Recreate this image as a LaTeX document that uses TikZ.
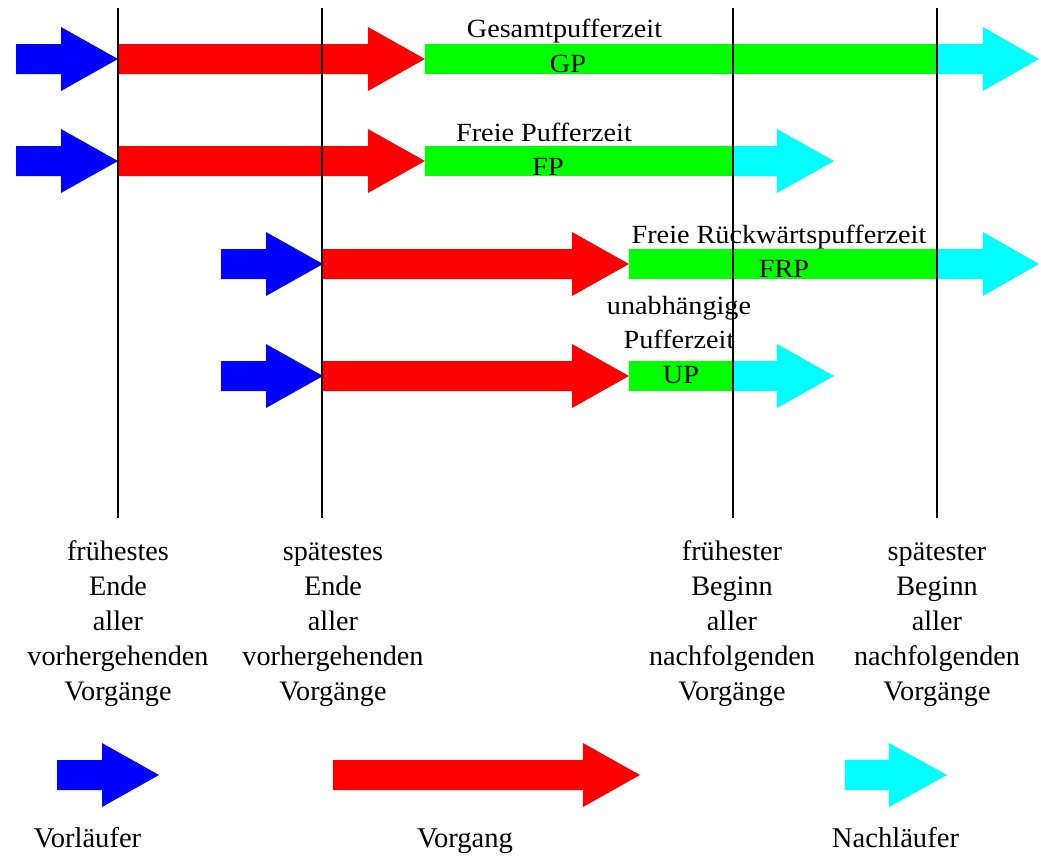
\documentclass[tikz,border=0pt]{standalone}
\usepackage{fontspec}
\setmainfont{Liberation Serif}
\usepackage{graphicx}
\definecolor{vblue}{RGB}{0,0,255}
\definecolor{vred}{RGB}{255,0,0}
\definecolor{vgreen}{RGB}{0,255,0}
\definecolor{vcyan}{RGB}{0,255,255}
% color, shaft start x, head start x, tip x, centre y
\newcommand\blockarrow[5]{%
  \fill[#1] (#2,#5-15) -- (#3,#5-15) -- (#3,#5-32) -- (#4,#5) -- (#3,#5+32) -- (#3,#5+15) -- (#2,#5+15) -- cycle;}
\newcommand\greenbar[3]{\fill[vgreen] (#1,#3-15) rectangle (#2,#3+15);}
\newcommand\sq[1]{\scalebox{1}[0.93]{#1}}
\newcommand\stack[1]{\begin{tabular}[t]{@{}c@{}}#1\end{tabular}}
\tikzset{
  lbl/.style={anchor=base, inner sep=0pt, font=\fontsize{28.2}{35}\selectfont},
  lblw/.style={anchor=base, inner sep=0pt, font=\fontsize{28.2}{37.6}\selectfont},
  leg/.style={anchor=base, inner sep=0pt, font=\fontsize{28.6}{34}\selectfont},
  vline/.style={line width=1.5pt, black}
}
\begin{document}
\begin{tikzpicture}[x=1pt,y=-1pt]
\useasboundingbox (0,0) rectangle (1041,855);
% row 1
\blockarrow{vblue}{16}{61}{118}{59}
\blockarrow{vred}{118}{368}{425}{59}
\greenbar{425}{937}{59}
\blockarrow{vcyan}{937}{983}{1039}{59}
% row 2
\blockarrow{vblue}{16}{61}{118}{161}
\blockarrow{vred}{118}{368}{425}{161}
\greenbar{425}{733}{161}
\blockarrow{vcyan}{733}{777}{834}{161}
% row 3
\blockarrow{vblue}{221}{266}{323}{264}
\blockarrow{vred}{323}{572}{629}{264}
\greenbar{629}{937}{264}
\blockarrow{vcyan}{937}{983}{1039}{264}
% row 4
\blockarrow{vblue}{221}{266}{323}{376}
\blockarrow{vred}{323}{572}{629}{376}
\greenbar{629}{733}{376}
\blockarrow{vcyan}{733}{777}{834}{376}
% vertical lines
\coordinate (l1t) at (118,8); \coordinate (l1b) at (118,518);
\coordinate (l2t) at (322,8); \coordinate (l2b) at (322,518);
\coordinate (l3t) at (733,8); \coordinate (l3b) at (733,518);
\coordinate (l4t) at (937,8); \coordinate (l4b) at (937,518);
\draw[vline] (l1t) -- (l1b);
\draw[vline] (l2t) -- (l2b);
\draw[vline] (l3t) -- (l3b);
\draw[vline] (l4t) -- (l4b);
% labels
\node[lbl] (gpt) at (564.5,37) {\sq{Gesamtpufferzeit}};
\node[lbl] (gp)  at (568,72)   {\sq{GP}};
\node[lbl] (fpt) at (544,141)  {\sq{Freie Pufferzeit}};
\node[lbl] (fp)  at (548,175)  {\sq{FP}};
\node[lbl] (frpt) at (779,243) {\sq{Freie Rückwärtspufferzeit}};
\node[lbl] (frp) at (784,277)  {\sq{FRP}};
\node[lblw] (upt) at (679,314)  {\sq{\stack{unabhängige\\Pufferzeit}}};
\node[lbl] (up)  at (681,383)  {\sq{UP}};
% column texts
\node[lbl] (c1) at (118,560) {\stack{frühestes\\Ende\\aller\\vorhergehenden\\Vorgänge}};
\node[lbl] (c2) at (333,560) {\stack{spätestes\\Ende\\aller\\vorhergehenden\\Vorgänge}};
\node[lbl] (c3) at (732,560) {\stack{frühester\\Beginn\\aller\\nachfolgenden\\Vorgänge}};
\node[lbl] (c4) at (937,560) {\stack{spätester\\Beginn\\aller\\nachfolgenden\\Vorgänge}};
% legend
\blockarrow{vblue}{57}{102}{159}{775}
\blockarrow{vred}{333}{583}{640}{775}
\blockarrow{vcyan}{845}{889}{947}{775}
\node[leg] (lv) at (87.5,847) {Vorläufer};
\node[leg] (lg) at (465,847) {Vorgang};
\node[leg] (ln) at (895.5,847) {Nachläufer};
\end{tikzpicture}
\end{document}
